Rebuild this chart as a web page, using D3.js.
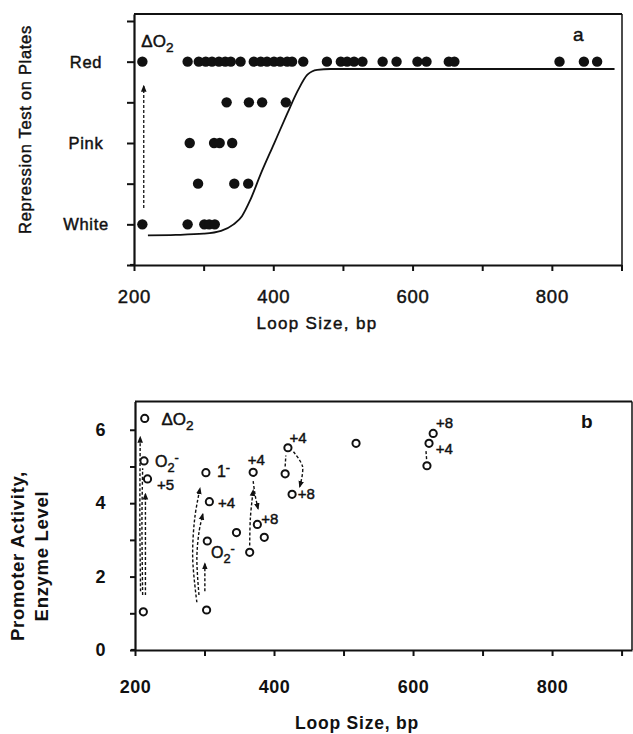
<!DOCTYPE html>
<html><head><meta charset="utf-8">
<script src="https://cdn.jsdelivr.net/npm/d3@7"></script>
<style>
body{margin:0;background:#fff}
svg{display:block}
text{font-family:"Liberation Sans",Arial,Helvetica,sans-serif;fill:#111}
.med{stroke:#111;stroke-width:0.45px}
</style>
</head><body><svg id="c" width="633" height="734"></svg>
<script>
// ---------- DATA ----------
// Panel a: repression test on plates
const plateLevels = ["White", "Pink", "Red"];
const plateLevelValues = [1, 2, 3];
const plateTickValues = [0.5, 1, 1.5, 2, 2.5, 3, 3.5];
const redX = [212, 277, 293, 303, 312, 322, 331, 339, 353, 372, 382, 391, 401, 410, 420, 427, 443, 477, 497, 506, 516, 528, 557, 577, 607, 620, 652, 660, 811, 846, 865];
const pinkRedX = [333, 365, 384, 418];     // between Pink and Red
const pinkX = [280, 315, 323, 341];
const whitePinkX = [292, 344, 364];        // between White and Pink
const whiteX = [212, 277, 301, 308, 316];
const fitX = [220, 260, 300, 325, 343, 355, 367, 382, 401, 420, 435, 449, 463, 482, 890];
const fitY = [0.865, 0.87, 0.885, 0.92, 1.0, 1.1, 1.3, 1.62, 1.99, 2.36, 2.64, 2.84, 2.9, 2.91, 2.91];
const arrowA = [[214, 1.2], [214, 2.7]];
// Panel b: promoter activity
const loopTicks = [200, 400, 600, 800];
const loopMinorTicks = [200, 300, 400, 500, 600, 700, 800, 900];
const activityTicks = [0, 2, 4, 6];
const activityMinorTicks = [0, 1, 2, 3, 4, 5, 6];
const promoterX = [214, 213, 218, 212, 302, 307, 304, 303, 346, 365, 376, 386, 370, 420, 416, 426, 518, 629, 623, 620];
const promoterY = [6.31, 5.15, 4.66, 1.04, 4.83, 4.04, 2.97, 1.09, 3.2, 2.66, 3.42, 3.07, 4.84, 5.51, 4.8, 4.24, 5.63, 5.9, 5.63, 5.02];
const promoterLabels = ["ΔO_2", "O_2^-", "+5", "", "1^-", "+4", "O_2^-", "", "", "", "+8", "", "+4", "+4", "", "+8", "", "+8", "+4", ""];
const arrowsB = [
  [[208, 1.6], [207, 3.5], [207.5, 5.8]],
  [[211, 1.5], [210, 3.5], [211, 4.95]],
  [[215, 1.5], [215, 3.0], [215, 4.25]],
  [[289, 1.3], [283, 2.5], [286, 3.6], [293.5, 4.4]],
  [[292, 1.5], [289, 2.5], [292, 3.2], [297.5, 3.7]],
  [[300.5, 1.6], [300.5, 2.35]],
  [[365, 2.85], [366, 3.6], [370, 4.35]],
  [[370, 4.6], [373, 4.2], [377, 3.85]],
  [[416, 5.0], [417, 5.3]],
  [[428, 5.4], [441, 5.0], [437, 4.45]],
  [[619.5, 5.2], [618.5, 5.45]]
];
const arrowHeadsB = [true, false, true, true, true, true, true, true, false, true, false];

// ---------- LAYOUT ----------
const labelOffsets = [[16.7, 6.7], [11, 5.7], [9.4, 11], [0, 0], [11, 4.5], [8.7, 6.3], [3.7, 17], [0, 0], [0, 0], [0, 0], [4, 0], [0, 0], [-5.3, -7.3], [1.7, -4.7], [0, 0], [5.7, 4.7], [0, 0], [2.7, -5.3], [6.7, 10.7], [0, 0]];
const labelSizes = [17, 16, 15, 15, 16, 15, 16, 15, 15, 15, 15, 15, 15, 15, 15, 15, 15, 15, 15, 15];

const svg = d3.select("#c");
svg.append("rect").attr("width", 633).attr("height", 734).attr("fill", "#fff");

const defs = svg.append("defs");
defs.append("marker").attr("id", "ah").attr("viewBox", "0 0 10 10")
  .attr("refX", 8).attr("refY", 5).attr("markerWidth", 7).attr("markerHeight", 7)
  .attr("markerUnits", "userSpaceOnUse").attr("orient", "auto")
  .append("path").attr("d", "M0,1 L10,5 L0,9 Z").attr("fill", "#111");

function richText(sel, str, size) {
  let i = 0, shift = 0;
  while (i < str.length) {
    let c = str[i];
    if (c === "_" || c === "^") {
      const ch = str[i + 1];
      const target = c === "_" ? 5 : -5;
      sel.append("tspan").attr("dy", target - shift).attr("font-size", size * 0.8).text(ch);
      shift = target; i += 2;
    } else {
      let j = i;
      while (j < str.length && str[j] !== "_" && str[j] !== "^") j++;
      sel.append("tspan").attr("dy", -shift).attr("font-size", size).text(str.slice(i, j));
      shift = 0; i = j;
    }
  }
}

// ---------- PANEL A ----------
const xA = d3.scaleLinear().domain([200, 900]).range([134, 621.5]);
const yA = d3.scaleLinear().domain([0.5, 3.586]).range([265, 14]);
const gA = svg.append("g");

gA.append("line").attr("x1", xA(200)).attr("x2", 622).attr("y1", yA(3.586)).attr("y2", yA(3.586)).attr("stroke", "#111").attr("stroke-width", 2);
gA.append("line").attr("x1", 622).attr("x2", 622).attr("y1", yA(3.586)).attr("y2", yA(0.5)).attr("stroke", "#111").attr("stroke-width", 1.5);

const axA = gA.append("g").attr("transform", `translate(0,${yA(0.5)})`)
  .call(d3.axisBottom(xA).tickValues(loopMinorTicks).tickFormat(d => loopTicks.includes(d) ? d : "").tickSizeInner(6).tickSizeOuter(0).tickPadding(19));
const ayA = gA.append("g").attr("transform", `translate(${xA(200)},0)`)
  .call(d3.axisLeft(yA).tickValues(plateTickValues).tickFormat("").tickSizeInner(7).tickSizeOuter(0));
[axA, ayA].forEach(a => {
  a.select(".domain").attr("stroke", "#111").attr("stroke-width", 2.2);
  a.selectAll(".tick line").attr("stroke", "#111").attr("stroke-width", 2);
});
axA.selectAll(".tick text").attr("font-size", 18.5).attr("letter-spacing", 0.8).attr("fill", "#111").attr("class", "med");
gA.append("line").attr("x1", xA(200) - 4).attr("x2", xA(200)).attr("y1", yA(0.5)).attr("y2", yA(0.5)).attr("stroke", "#111").attr("stroke-width", 2.2);

gA.selectAll(".lvl").data(plateLevels).join("text").attr("class", "lvl med")
  .attr("x", 86).attr("y", (d, i) => yA(plateLevelValues[i]) + 6)
  .attr("text-anchor", "middle").attr("font-size", 16.5).attr("letter-spacing", 0.7).text(d => d);

gA.append("text").attr("class", "med").attr("transform", `translate(31,${(yA(0.5) + yA(3.586)) / 2 - 10}) rotate(-90)`)
  .attr("text-anchor", "middle").attr("font-size", 16.5).attr("letter-spacing", 0.7).text("Repression Test on Plates");
gA.append("text").attr("class", "med").attr("x", 317).attr("y", 329).attr("text-anchor", "middle")
  .attr("font-size", 17).attr("letter-spacing", 1.3).text("Loop Size, bp");

gA.append("path").datum(fitX.map((x, i) => [x, fitY[i]]))
  .attr("d", d3.line().x(d => xA(d[0])).y(d => yA(d[1])).curve(d3.curveMonotoneX))
  .attr("fill", "none").attr("stroke", "#111").attr("stroke-width", 1.8);

const rowsA = [[redX, 3], [pinkRedX, 2.5], [pinkX, 2], [whitePinkX, 1.5], [whiteX, 1]];
rowsA.forEach(([xs, lvl]) => {
  gA.append("g").selectAll("circle").data(xs).join("circle")
    .attr("cx", d => xA(d)).attr("cy", yA(lvl)).attr("r", 5.2).attr("fill", "#111");
});

gA.append("path").datum(arrowA)
  .attr("d", d3.line().x(d => xA(d[0])).y(d => yA(d[1])))
  .attr("fill", "none").attr("stroke", "#111").attr("stroke-width", 1.3)
  .attr("stroke-dasharray", "3,2").attr("marker-end", "url(#ah)");

const tA = gA.append("text").attr("class", "med").attr("x", xA(redX[0]) - 1).attr("y", yA(3) - 15);
richText(tA, "ΔO_2", 17);
gA.append("text").attr("class", "med").attr("x", 573).attr("y", 41).attr("font-size", 19).text("a");

// ---------- PANEL B ----------
const xB = d3.scaleLinear().domain([200, 915]).range([135, 632]);
const yB = d3.scaleLinear().domain([0, 6.77]).range([650, 401.5]);
const gB = svg.append("g");

gB.append("line").attr("x1", xB(200)).attr("x2", 632).attr("y1", yB(6.77)).attr("y2", yB(6.77)).attr("stroke", "#111").attr("stroke-width", 2.2);
gB.append("line").attr("x1", 632).attr("x2", 632).attr("y1", yB(6.77)).attr("y2", yB(0)).attr("stroke", "#111").attr("stroke-width", 1.5);

const axB = gB.append("g").attr("transform", `translate(0,${yB(0)})`)
  .call(d3.axisBottom(xB).tickValues(loopMinorTicks).tickFormat(d => loopTicks.includes(d) ? d : "").tickSizeInner(6).tickSizeOuter(0).tickPadding(24));
const ayB = gB.append("g").attr("transform", `translate(${xB(200)},0)`)
  .call(d3.axisLeft(yB).tickValues(activityMinorTicks).tickFormat(d => activityTicks.includes(d) ? d : "").tickSizeInner(5).tickSizeOuter(0).tickPadding(24));
[axB, ayB].forEach(a => {
  a.select(".domain").attr("stroke", "#111").attr("stroke-width", 2.2);
  a.selectAll(".tick line").attr("stroke", "#111").attr("stroke-width", 2);
  a.selectAll(".tick text").attr("font-size", 18).attr("font-weight", "bold").attr("letter-spacing", 0.5).attr("fill", "#111");
});
gB.append("line").attr("x1", xB(200) - 4).attr("x2", xB(200)).attr("y1", yB(0)).attr("y2", yB(0)).attr("stroke", "#111").attr("stroke-width", 2.2);

gB.append("text").attr("transform", `translate(24,556) rotate(-90)`)
  .attr("text-anchor", "middle").attr("font-size", 18.5).attr("font-weight", "bold").attr("letter-spacing", 0.7).text("Promoter Activity,");
gB.append("text").attr("transform", `translate(48,556) rotate(-90)`)
  .attr("text-anchor", "middle").attr("font-size", 18.5).attr("font-weight", "bold").attr("letter-spacing", 0.7).text("Enzyme Level");
gB.append("text").attr("x", 357).attr("y", 729).attr("text-anchor", "middle")
  .attr("font-size", 17.5).attr("font-weight", "bold").attr("letter-spacing", 0.8).text("Loop Size, bp");
gB.append("text").attr("x", 581).attr("y", 428).attr("font-size", 19).attr("font-weight", "bold").text("b");

arrowsB.forEach((pts, i) => {
  gB.append("path").datum(pts)
    .attr("d", d3.line().x(d => xB(d[0])).y(d => yB(d[1])).curve(d3.curveCatmullRom))
    .attr("fill", "none").attr("stroke", "#111").attr("stroke-width", 1.4)
    .attr("stroke-dasharray", "3,2")
    .attr("marker-end", arrowHeadsB[i] ? "url(#ah)" : null);
});

gB.append("g").selectAll("circle").data(promoterX).join("circle")
  .attr("cx", d => xB(d)).attr("cy", (d, i) => yB(promoterY[i])).attr("r", 3.6)
  .attr("fill", "#fff").attr("stroke", "#111").attr("stroke-width", 2);

promoterLabels.forEach((lab, i) => {
  if (!lab) return;
  const t = gB.append("text").attr("class", "med")
    .attr("x", xB(promoterX[i]) + labelOffsets[i][0])
    .attr("y", yB(promoterY[i]) + labelOffsets[i][1]);
  richText(t, lab, labelSizes[i]);
});
</script></body></html>
